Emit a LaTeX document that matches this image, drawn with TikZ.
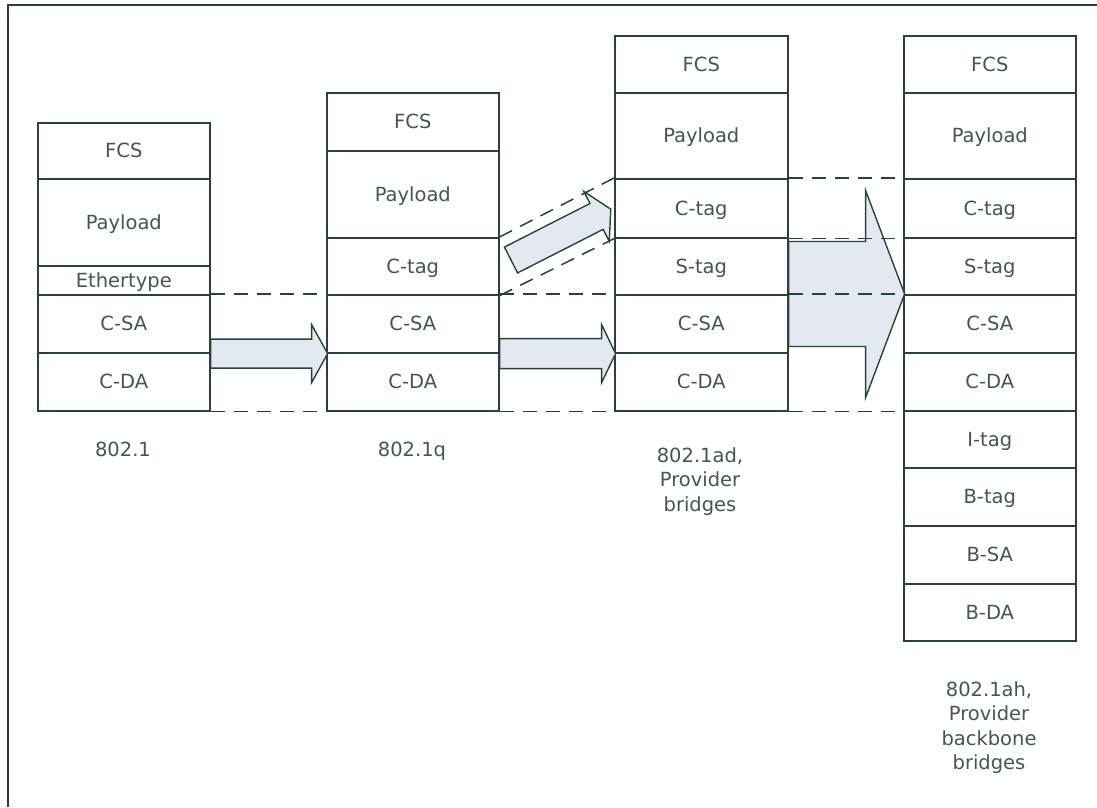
\documentclass[tikz,border=0pt]{standalone}
\usepackage{fontspec}
\setmainfont{DejaVu Sans}
\usetikzlibrary{calc}
\definecolor{linec}{HTML}{2A423C}
\definecolor{textc}{HTML}{44564F}
\definecolor{arrowfill}{HTML}{E4E9F1}
\tikzset{
  cell/.style={draw=linec, line width=1.6pt, fill=white, inner sep=0pt,
    minimum width=172pt, anchor=north west, text=textc,
    font=\fontsize{19.5}{24.5}\selectfont, text height=14pt, text depth=0pt},
  guide/.style={draw=linec, line width=1.5pt, dash pattern=on 14pt off 9pt},
  fatarrow/.style={draw=linec, line width=1.4pt, fill=arrowfill, line join=miter},
  caption/.style={text=textc, font=\fontsize{19.5}{24.5}\selectfont,
    align=center, inner sep=0pt, anchor=north},
  outerframe/.style={draw=linec, line width=2pt},
}
\newcommand\cellbox[6][172]{\node[cell, minimum width=#1pt, minimum height=#5pt] (#2) at (#3,#4) {#6};}
\newcommand\blockarrow[6]{%
  \begin{scope}[shift={#1}, rotate=#3]
    \draw[fatarrow] (0,-#4) -- ({#2-#6},-#4) -- ({#2-#6},-#5) -- (#2,0)
      -- ({#2-#6},#5) -- ({#2-#6},#4) -- (0,#4) -- cycle;
  \end{scope}}
\begin{document}
\begin{tikzpicture}[x=1pt, y=-1pt]
\useasboundingbox (0,0) rectangle (1097,807);
\fill[white] (0,0) rectangle (1097,807);
\draw[outerframe] (8,807) -- (8,5) -- (1097,5);

% column 1
\cellbox{c1fcs}{37}{122}{56}{FCS}
\cellbox{c1pay}{37}{178}{87}{Payload}
\cellbox{c1eth}{37}{265}{29}{Ethertype}
\cellbox{c1sa}{37}{294}{58}{C-SA}
\cellbox{c1da}{37}{352}{58}{C-DA}
% column 2
\cellbox{c2fcs}{326}{92}{58}{FCS}
\cellbox{c2pay}{326}{150}{87}{Payload}
\cellbox{c2ctag}{326}{237}{57}{C-tag}
\cellbox{c2sa}{326}{294}{58}{C-SA}
\cellbox{c2da}{326}{352}{58}{C-DA}
% column 3
\cellbox[173]{c3fcs}{614}{35}{57}{FCS}
\cellbox[173]{c3pay}{614}{92}{86}{Payload}
\cellbox[173]{c3ctag}{614}{178}{59}{C-tag}
\cellbox[173]{c3stag}{614}{237}{57}{S-tag}
\cellbox[173]{c3sa}{614}{294}{58}{C-SA}
\cellbox[173]{c3da}{614}{352}{58}{C-DA}
% column 4
\cellbox{c4fcs}{903}{35}{57}{FCS}
\cellbox{c4pay}{903}{92}{86}{Payload}
\cellbox{c4ctag}{903}{178}{59}{C-tag}
\cellbox{c4stag}{903}{237}{57}{S-tag}
\cellbox{c4sa}{903}{294}{58}{C-SA}
\cellbox{c4da}{903}{352}{58}{C-DA}
\cellbox{c4itag}{903}{410}{57}{I-tag}
\cellbox{c4btag}{903}{467}{58}{B-tag}
\cellbox{c4bsa}{903}{525}{58}{B-SA}
\cellbox{c4bda}{903}{583}{57}{B-DA}

% block arrows
\blockarrow{(c1sa.south east)}{117}{0}{14.5}{29}{16}
\blockarrow{(c2sa.south east)}{116}{0}{15}{29}{14}
\blockarrow{(c3sa.north east)}{116}{0}{52.5}{103.5}{39}
\coordinate (dtail) at (511,260);
\blockarrow{(dtail)}{112}{27}{14.5}{28}{16}

% dashed guides
\draw[guide] (c1sa.north east) -- (c2sa.north west);
\draw[guide] (c2sa.north east) -- (c3sa.north west);
\draw[guide] (c3sa.north east) -- (c4sa.north west);
\draw[guide] (c1da.south east) -- (c2da.south west);
\draw[guide] (c2da.south east) -- (c3da.south west);
\draw[guide] (c3da.south east) -- (c4da.south west);
\draw[guide] (c2ctag.north east) -- (c3ctag.north west);
\draw[guide] (c2ctag.south east) -- (c3ctag.south west);
\draw[guide] (c3ctag.north east) -- (c4ctag.north west);
\draw[guide] (c3ctag.south east) -- (c4ctag.south west);

% captions
\node[caption] (l1) at (123,442) {802.1};
\node[caption] (l2) at (412,442) {802.1q};
\node[caption] (l3) at (700,447) {802.1ad,\\Provider\\bridges};
\node[caption] (l4) at (989,681) {802.1ah,\\Provider\\backbone\\bridges};
\end{tikzpicture}
\end{document}
